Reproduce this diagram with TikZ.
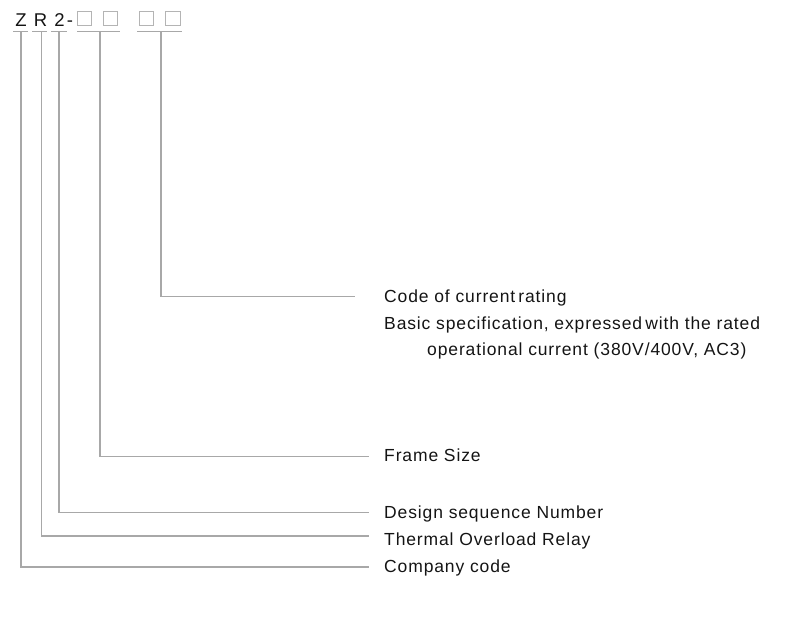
\documentclass[tikz,border=0pt]{standalone}
\usepackage{fontspec}
\setmainfont{Liberation Sans}[LetterSpace=5]
\definecolor{linegray}{HTML}{A8A8A8}
\definecolor{boxgray}{HTML}{B4B4B4}
\definecolor{txt}{HTML}{141414}
\begin{document}
\begin{tikzpicture}[x=1pt,y=-1pt,
  conn/.style={draw=linegray, line width=1.1pt},
  lbl/.style={anchor=base west, inner sep=0pt, font=\fontsize{17.5}{20}\selectfont, text=txt},
  codechar/.style={anchor=base, inner sep=0pt, font=\fontsize{18.5}{20}\selectfont, text=txt},
  cbox/.style={draw=boxgray, line width=1pt, minimum size=14.5pt, inner sep=0pt}]
\useasboundingbox (0,0) rectangle (800,620);
% code characters
\node[codechar] (cZ) at (21,27) {Z};
\node[codechar] (cR) at (40.5,27) {R};
\node[codechar] (c2) at (59.5,27) {2};
\node[codechar] (cdash) at (70,27) {-};
\node[cbox] (b1) at (84.5,18.5) {};
\node[cbox] (b2) at (110.5,18.5) {};
\node[cbox] (b3) at (146.5,18.5) {};
\node[cbox] (b4) at (173,18.5) {};
% underlines
\coordinate (uZl) at (13,31.5); \coordinate (uZr) at (28,31.5); \coordinate (uZ) at (21,31.5);
\coordinate (uRl) at (32,31.5); \coordinate (uRr) at (47,31.5); \coordinate (uR) at (41.5,31.5);
\coordinate (u2l) at (51,31.5); \coordinate (u2r) at (67,31.5); \coordinate (u2) at (59,31.5);
\coordinate (uFl) at (77,31.5); \coordinate (uFr) at (120,31.5); \coordinate (uF) at (100,31.5);
\coordinate (uCl) at (137,31.5); \coordinate (uCr) at (182,31.5); \coordinate (uC) at (161,31.5);
\foreach \u in {Z,R,2,F,C} \draw[conn] (u\u l) -- (u\u r);
% line ends
\coordinate (eCur) at (355,296.5);
\coordinate (eFrame) at (369,456.5);
\coordinate (eDesign) at (369,512.5);
\coordinate (eThermal) at (369,536);
\coordinate (eComp) at (369,567);
% labels
\node[lbl] (tCur) at (384,302) {Code of current\hspace{-0.15em} rating};
\node[lbl] (tBasic) at (384,329) {Basic specification, expressed\hspace{-0.15em} with the rated};
\node[lbl] (tOper) at (427,355) {operational current (380V/400V, AC3)};
\node[lbl] (tFrame) at (384,461.5) {Frame Size};
\node[lbl] (tDesign) at (384,518) {Design sequence Number};
\node[lbl] (tThermal) at (384,545) {Thermal Overload Relay};
\node[lbl] (tComp) at (384,572) {Company code};
% connectors
\draw[conn] (uC) |- (eCur);
\draw[conn] (uF) |- (eFrame);
\draw[conn] (u2) |- (eDesign);
\draw[conn] (uR) |- (eThermal);
\draw[conn] (uZ) |- (eComp);
\end{tikzpicture}
\end{document}
